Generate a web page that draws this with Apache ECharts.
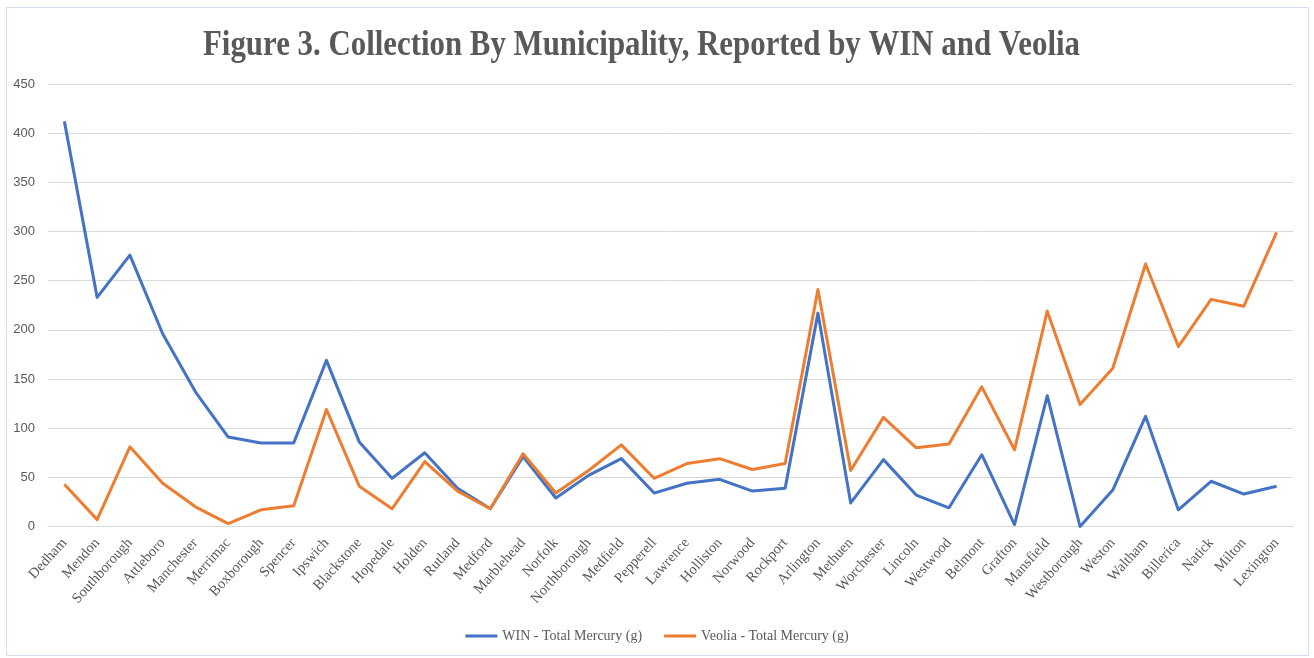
<!DOCTYPE html>
<html>
<head>
<meta charset="utf-8">
<script src="https://cdn.jsdelivr.net/npm/echarts@6/dist/echarts.min.js"></script>
<style>html,body{margin:0;padding:0;background:#fff}#c{width:1314px;height:658px}</style>
</head>
<body>
<div id="c"></div>
<script>
const categories = ["Dedham","Mendon","Southborough","Attleboro","Manchester","Merrimac","Boxborough","Spencer","Ipswich","Blackstone","Hopedale","Holden","Rutland","Medford","Marblehead","Norfolk","Northborough","Medfield","Pepperell","Lawrence","Holliston","Norwood","Rockport","Arlington","Methuen","Worchester","Lincoln","Westwood","Belmont","Grafton","Mansfield","Westborough","Weston","Waltham","Billerica","Natick","Milton","Lexington"];
const winValues = [412,233,276,196,137,91,85,85,169,86,49,75,39,18,71,29,52,69,34,44,48,36,39,217,24,68,32,19,73,2,133,0,37,112,17,46,33,41];
const veoliaValues = [43,7,81,44,20,3,17,21,119,41,18,66,36,18,74,34,57,83,49,64,69,58,64,241,57,111,80,84,142,78,219,124,161,267,183,231,224,299];
const yTicks = [0,50,100,150,200,250,300,350,400,450];
const titleText = "Figure 3. Collection By Municipality, Reported by WIN and Veolia";
const seriesNames = ["WIN - Total Mercury (g)", "Veolia - Total Mercury (g)"];

const cv = document.createElement('canvas').getContext('2d');
cv.font = 'bold 36px "Liberation Serif"';
const titleScale = 877 / cv.measureText(titleText).width;

const chart = echarts.init(document.getElementById('c'), null, {renderer: 'canvas'});
chart.setOption({
  animation: false,
  backgroundColor: '#fff',
  graphic: [
    {type: 'rect', shape: {x: 6.5, y: 7.5, width: 1302, height: 648}, style: {fill: 'none', stroke: '#d3ddf0', lineWidth: 1}, silent: true},
    {type: 'text', x: 641.5, y: 46, scaleX: titleScale, scaleY: 1,
     style: {text: titleText, font: 'bold 36px "Liberation Serif"', fill: '#595959', textAlign: 'center', textVerticalAlign: 'middle'}}
  ],
  grid: {left: 48, right: 21, top: 84, bottom: 131.5, containLabel: false},
  legend: {
    bottom: 10, left: 'center', itemGap: 22,
    icon: 'rect', itemWidth: 32, itemHeight: 3,
    textStyle: {fontFamily: '"Liberation Serif"', fontSize: 14, color: '#595959'},
    data: seriesNames
  },
  xAxis: {
    type: 'category', data: categories, boundaryGap: true,
    axisLine: {lineStyle: {color: '#d9d9d9'}}, axisTick: {show: false},
    axisLabel: {interval: 0, rotate: 48, fontFamily: '"Liberation Serif"', fontSize: 14.5, color: '#595959', margin: 14}
  },
  yAxis: {
    type: 'value', min: 0, max: 450, interval: 50,
    axisLine: {show: false}, axisTick: {show: false},
    splitLine: {lineStyle: {color: '#d9d9d9', width: 1}},
    axisLabel: {fontFamily: '"Liberation Sans"', fontSize: 13, color: '#595959', margin: 13,
      formatter: v => yTicks.includes(v) ? String(v) : ''}
  },
  series: [
    {name: seriesNames[0], type: 'line', data: winValues, showSymbol: false, symbol: 'none',
     lineStyle: {color: '#4472C4', width: 3, join: 'round'}, itemStyle: {color: '#4472C4'}},
    {name: seriesNames[1], type: 'line', data: veoliaValues, showSymbol: false, symbol: 'none',
     lineStyle: {color: '#ED7D31', width: 3, join: 'round'}, itemStyle: {color: '#ED7D31'}}
  ]
});
</script>
</body>
</html>
